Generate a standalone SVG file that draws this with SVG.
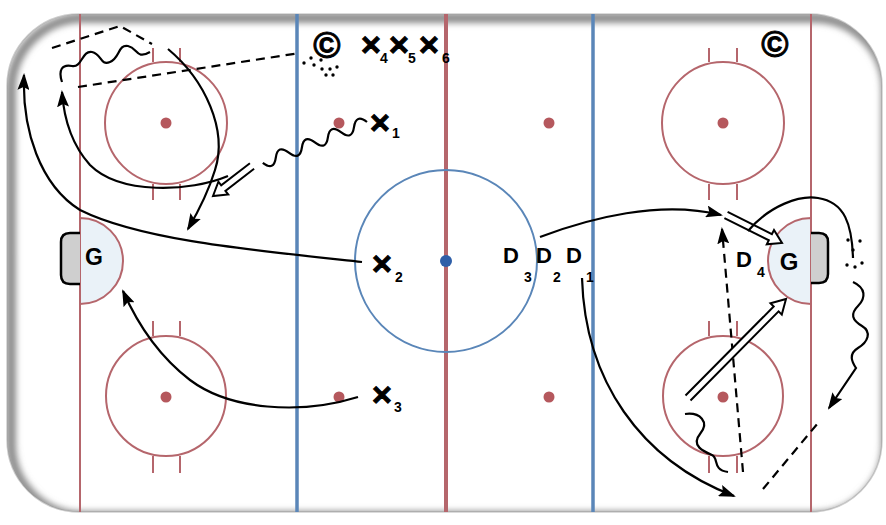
<svg xmlns="http://www.w3.org/2000/svg" width="886" height="525" viewBox="0 0 886 525">
<defs>
<style>
.red{stroke:#b5666c;fill:none}
.blue{stroke:#5a86b8;fill:none}
.dotr{fill:#b5585d}
.con{stroke:#000;stroke-width:2.2;fill:none}
.dash{stroke:#000;stroke-width:2.2;fill:none;stroke-dasharray:9 6}
.hollow{stroke:#000;stroke-width:2;fill:#fff;stroke-linejoin:miter}
.lbl{font-family:"Liberation Sans",Arial,sans-serif;font-weight:bold;fill:#000;text-anchor:middle}
.x{font-size:34px;stroke:#000;stroke-width:1}
.sub{font-size:14px}
.big{font-size:22px}
.coach{font-size:37px;stroke:#000;stroke-width:0.9}
.puck{fill:#000}
</style>
<clipPath id="rink"><rect x="7" y="14" width="875" height="498" rx="72"/></clipPath>
<filter id="blur" x="-5%" y="-5%" width="110%" height="110%"><feGaussianBlur stdDeviation="3"/></filter>
<marker id="ah" markerWidth="17" markerHeight="12" refX="15" refY="6" orient="auto" markerUnits="userSpaceOnUse"><path d="M0,0 L17,6 L0,12 L3,6 Z" fill="#000"/></marker>
</defs>
<rect x="0" y="0" width="886" height="525" fill="#fff"/>
<g id="rink-surface">
<rect x="7" y="14" width="875" height="498" rx="72" fill="#fff" stroke="#cfcfcf" stroke-width="1.5"/>
<g clip-path="url(#rink)">
<rect x="7" y="14" width="875" height="498" rx="72" fill="none" stroke="#8c8c8c" stroke-width="10" transform="translate(4,4)" filter="url(#blur)"/>
<line x1="80" y1="10" x2="80" y2="515" class="red" stroke-width="2"/>
<line x1="811" y1="10" x2="811" y2="515" class="red" stroke-width="2"/>
<line x1="297" y1="10" x2="297" y2="515" class="blue" stroke-width="3.5"/>
<line x1="593" y1="10" x2="593" y2="515" class="blue" stroke-width="3.5"/>
<line x1="446" y1="10" x2="446" y2="515" class="red" stroke-width="4"/>
</g>
<circle cx="446" cy="261" r="91" class="blue" stroke-width="2"/>
<circle cx="446" cy="261" r="6" fill="#2f5fa8"/>
<g class="red" stroke-width="2">
<circle cx="166" cy="123" r="61"/>
<circle cx="166" cy="396" r="60"/>
<circle cx="723" cy="123" r="61"/>
<circle cx="723" cy="396" r="60"/>
<path d="M153,48V62M180,48V62M153,184V200M180,184V200"/>
<path d="M153,321V336M180,321V336M153,456V473M180,456V473"/>
<path d="M709,48V62M737,48V62M709,184V200M737,184V200"/>
<path d="M709,321V336M737,321V336M709,456V473M737,456V473"/>
</g>
<g class="dotr">
<circle cx="166" cy="123" r="5.5"/><circle cx="166" cy="397" r="5.5"/>
<circle cx="723" cy="123" r="5.5"/><circle cx="723" cy="397" r="5.5"/>
<circle cx="339" cy="123" r="5.5"/><circle cx="549" cy="123" r="5.5"/>
<circle cx="339" cy="397" r="5.5"/><circle cx="549" cy="397" r="5.5"/>
</g>
<path d="M80,218 A43,43 0 0 1 80,304 Z" fill="#eaf2f8" stroke="#b5666c" stroke-width="2"/>
<path d="M811,218 A43,43 0 0 0 811,304 Z" fill="#eaf2f8" stroke="#b5666c" stroke-width="2"/>
<path d="M80,233 H70 Q61,233 61,242 V275 Q61,284 70,284 H80 Z" fill="#cfcfcf" stroke="none"/>
<path d="M80,233 H70 Q61,233 61,242 V275 Q61,284 70,284 H80" fill="none" stroke="#000" stroke-width="2.5"/>
<path d="M811,233 H819 Q828,233 828,242 V274 Q828,283 819,283 H811 Z" fill="#cfcfcf" stroke="none"/>
<path d="M811,233 H819 Q828,233 828,242 V274 Q828,283 819,283 H811" fill="none" stroke="#000" stroke-width="2.5"/>
</g>
<g id="connectors">
<path class="dash" d="M52,48 L120,26 L152,44"/>
<path class="dash" d="M78,87 L300,53"/>
<path class="con" d="M62,82 C58,70 62,64 72,66 S82,50 92,52 S100,66 110,62 S118,44 128,46 S136,60 150,52"/>
<path class="con" marker-end="url(#ah)" d="M168,49 C205,80 228,130 215,170 C208,193 198,212 188,229"/>
<path class="con" marker-end="url(#ah)" d="M228,176 C190,192 120,195 90,165 C72,145 64,120 62,92"/>
<path class="con" marker-end="url(#ah)" d="M362,262 C250,250 140,240 80,210 C40,185 22,130 24,75"/>
<path class="con" d="M367,122 Q356,113.4 354,127.1 T340.9,132.2 T327.9,137.3 T314.9,142.4 T301.9,147.5 T288.8,152.6 T275.8,157.7 T262.8,162.8"/>
<polyline class="hollow" points="249.9,163.2 221.2,185.3 218.4,181.7 213,196 228.2,194.4 225.4,190.9 254.1,168.8"/>
<path class="con" marker-end="url(#ah)" d="M358,397 C300,415 230,410 190,380 C160,357 138,325 123,291"/>
<path class="con" marker-end="url(#ah)" d="M540,237 C590,218 660,200 721,215"/>
<polyline class="hollow" points="727.6,211.9 771.9,234.1 774,230 782,243 766.8,244.3 768.8,240.3 724.4,218.1"/>
<path class="con" d="M748,231 C770,205 800,195 818,198 C845,202 852,225 853,258"/>
<path class="dash" marker-end="url(#ah)" d="M743,472 L722,229"/>
<path class="con" marker-end="url(#ah)" d="M582,278 C585,380 640,460 734,496"/>
<polyline class="hollow" points="685.5,395.5 773.7,306.5 770.5,303.3 786,299 781.8,314.6 778.6,311.4 690.5,400.5"/>
<path class="con" d="M685,414 C700,412 710,422 700,434 S705,452 712,455 S712,470 728,472"/>
<path class="con" marker-end="url(#ah)" d="M853,282 C866,288 866,298 858,306 S852,320 862,326 S868,342 858,348 S852,362 856,368 L829,408"/>
<path class="dash" d="M763,489 L818,423"/>
<g class="puck">
<circle cx="304" cy="63" r="1.7"/><circle cx="311" cy="58" r="1.7"/><circle cx="314" cy="65" r="1.7"/>
<circle cx="321" cy="60" r="1.7"/><circle cx="322" cy="69" r="1.7"/><circle cx="330" cy="69" r="1.7"/>
<circle cx="337" cy="67" r="1.7"/><circle cx="326" cy="75" r="1.7"/><circle cx="333" cy="75" r="1.7"/>
<circle cx="848" cy="240" r="1.7"/><circle cx="860" cy="241" r="1.7"/><circle cx="853" cy="250" r="1.7"/>
<circle cx="847" cy="265" r="1.7"/><circle cx="855" cy="267" r="1.7"/><circle cx="862" cy="263" r="1.7"/>
</g>
</g>
<g id="goalie-left"><text class="lbl" x="94" y="265" font-size="23">G</text></g>
<g id="goalie-right"><text class="lbl" x="789" y="270" font-size="24">G</text></g>
<g id="coach-left"><text class="lbl coach" x="327" y="58">©</text></g>
<g id="coach-right"><text class="lbl coach" x="775" y="57">©</text></g>
<g id="x1"><text class="lbl x" x="380" y="134">×</text><text class="lbl sub" x="396" y="138">1</text></g>
<g id="x2"><text class="lbl x" x="382" y="275">×</text><text class="lbl sub" x="399" y="282">2</text></g>
<g id="x3"><text class="lbl x" x="382" y="406">×</text><text class="lbl sub" x="398" y="412">3</text></g>
<g id="x4"><text class="lbl x" x="371" y="56">×</text><text class="lbl sub" x="384" y="63">4</text></g>
<g id="x5"><text class="lbl x" x="399" y="56">×</text><text class="lbl sub" x="412" y="63">5</text></g>
<g id="x6"><text class="lbl x" x="429" y="56">×</text><text class="lbl sub" x="446" y="63">6</text></g>
<g id="d3"><text class="lbl big" x="511" y="263">D</text><text class="lbl sub" x="528" y="282">3</text></g>
<g id="d2"><text class="lbl big" x="544" y="263">D</text><text class="lbl sub" x="557" y="282">2</text></g>
<g id="d1"><text class="lbl big" x="574" y="263">D</text><text class="lbl sub" x="590" y="282">1</text></g>
<g id="d4"><text class="lbl big" x="744" y="267">D</text><text class="lbl sub" x="761" y="277">4</text></g>
</svg>
